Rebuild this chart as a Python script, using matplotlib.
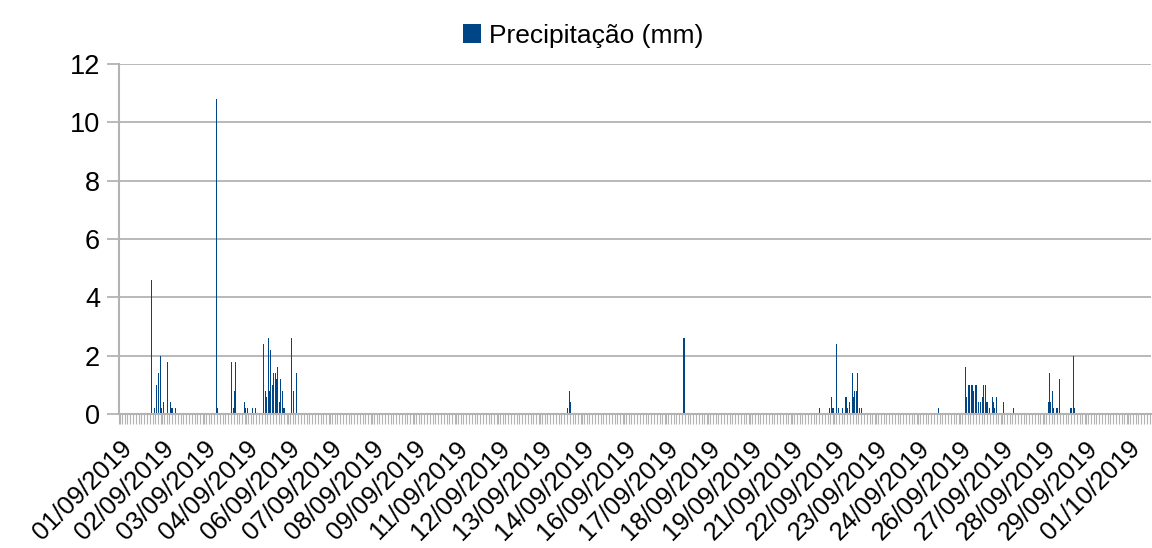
import numpy as np
import pandas as pd
import matplotlib
matplotlib.use("Agg")
import matplotlib.pyplot as plt

plt.rcParams['font.family'] = ['Liberation Sans', 'DejaVu Sans']

# hourly series, 01/09/2019 00h up to 01/10/2019 16h
start = pd.Timestamp("2019-09-01 00:00")
n_hours = 737
label_every = 30

# hours (since start) with rain, and the amount in mm
rain_hour = [23, 25, 26, 28, 29, 30, 31, 34, 36, 37, 38, 40,
             69, 70, 80, 81, 82, 83, 89, 90, 91, 95, 97,
             103, 104, 105, 106, 107, 108, 109, 110, 111, 112, 113, 114, 115, 116, 117, 118,
             123, 124, 126,
             320, 321, 322, 403,
             500, 507, 508, 509, 510, 512, 513, 516, 518, 519, 520, 521,
             523, 524, 525, 526, 527, 528, 530,
             585, 604, 605, 606, 607, 608, 609, 610, 611, 612, 613, 615, 616, 617, 618,
             619, 620, 621, 623, 624, 625, 626, 631, 638,
             663, 664, 665, 666, 667, 669, 670, 671, 679, 680, 681, 682]
rain_mm = [4.6, 0.2, 1.0, 1.4, 2.0, 0.2, 0.4, 1.8, 0.4, 0.2, 0.2, 0.2,
           10.8, 0.2, 1.8, 0.2, 0.8, 1.8, 0.4, 0.2, 0.2, 0.2, 0.2,
           2.4, 0.8, 0.6, 2.6, 0.8, 2.2, 1.0, 1.4, 1.4, 1.2, 1.6, 0.4, 1.2, 0.8, 0.2, 0.2,
           2.6, 0.8, 1.4,
           0.2, 0.8, 0.4, 2.6,
           0.2, 0.2, 0.6, 0.2, 0.2, 2.4, 0.2, 0.2, 0.6, 0.6, 0.2, 0.4,
           1.4, 0.6, 0.8, 0.8, 1.4, 0.2, 0.2,
           0.2, 1.6, 0.6, 1.0, 1.0, 1.0, 1.0, 0.8, 1.0, 1.0, 0.4, 0.4, 0.6, 1.0, 1.0,
           0.4, 0.4, 0.2, 0.6, 0.4, 0.2, 0.6, 0.4, 0.2,
           0.4, 1.4, 0.4, 0.8, 0.2, 0.2, 0.2, 1.2, 0.2, 0.2, 2.0, 0.2]

precip = np.zeros(n_hours)
precip[rain_hour] = rain_mm
x = np.arange(n_hours)

grey = '#b3b3b3'
blue = '#004586'

fig = plt.figure(figsize=(11.52, 5.48), dpi=100)
ax = fig.add_axes([119/1152, 1 - 414/548, 1032/1152, 350/548])

ax.bar(x, precip, width=0.75, color=blue, linewidth=0, antialiased=False,
       label='Precipitação (mm)', zorder=3)

ax.set_xlim(-0.5, n_hours - 0.5)
ax.set_ylim(0, 12)
ax.set_yticks(np.arange(0, 13, 2))
ax.grid(axis='y', color=grey, linewidth=1.3, zorder=0)

pos = list(range(0, n_hours, label_every))
labels = [(start + pd.Timedelta(hours=int(i))).strftime("%d/%m/%Y") for i in pos]
ax.set_xticks(pos)
ax.set_xticklabels(labels, rotation=45, ha='right', va='top', rotation_mode='anchor')
ax.set_xticks(np.arange(-0.5, n_hours, 2), minor=True)

for s in ['top', 'right']:
    ax.spines[s].set_visible(False)
for s in ['left', 'bottom']:
    ax.spines[s].set_color(grey)
    ax.spines[s].set_linewidth(1.5)
    ax.spines[s].set_zorder(4)

ax.tick_params(axis='y', length=8.5, width=1.3, color=grey, pad=5, labelsize=19.5)
ax.tick_params(axis='x', which='major', length=7, width=0.8, color=grey, pad=9, labelsize=18.5)
ax.tick_params(axis='x', which='minor', length=7, width=0.8, color=grey)

fig.legend(loc='upper center', bbox_to_anchor=(0.506, 1.0), frameon=False, fontsize=19,
           handlelength=0.7, handleheight=0.7, handletextpad=0.3)

fig.savefig('out.png', dpi=100)
